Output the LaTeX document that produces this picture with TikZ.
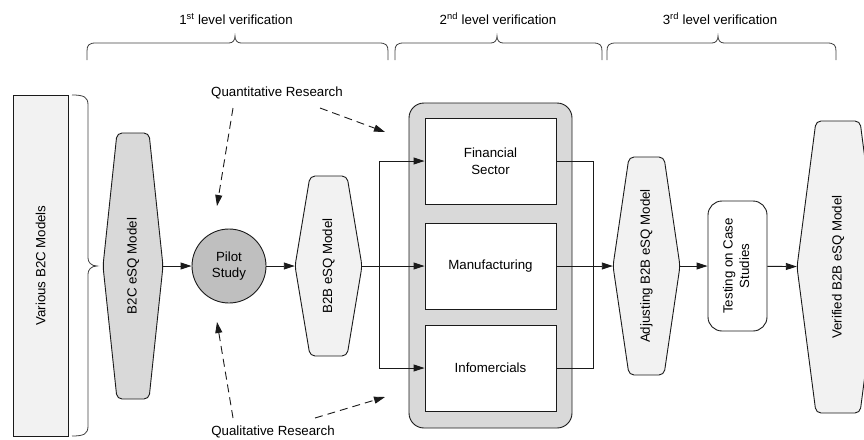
\documentclass[tikz,border=0pt]{standalone}
\usepackage{fontspec}
\setmainfont{Liberation Sans}
\usetikzlibrary{arrows.meta}
\definecolor{lightfill}{HTML}{F2F2F2}
\definecolor{midfill}{HTML}{D9D9D9}
\definecolor{darkfill}{HTML}{BFBFBF}
\definecolor{ink}{HTML}{1A1A1A}
\tikzset{
  line/.style={draw=ink, line width=0.9pt},
  arr/.style={line, -{Triangle[length=11pt,width=7pt]}},
  dasharr/.style={arr, dash pattern=on 8pt off 5pt},
  hexstyle/.style={line, rounded corners=5pt},
  bracestyle/.style={draw=black!75, line width=0.8pt},
  sectorbox/.style={line, fill=white, minimum width=131, minimum height=86, inner sep=0, align=center},
  plain/.style={inner sep=1pt, align=center}
}
\newcommand\hexnode[8]{%
  \draw[hexstyle, fill=#7] ({#2-#4},#3) -- ({#2-#4+#6},{#3-#5}) -- ({#2+#4-#6},{#3-#5}) -- ({#2+#4},#3) -- ({#2+#4-#6},{#3+#5}) -- ({#2-#4+#6},{#3+#5}) -- cycle;
  \node[inner sep=0, minimum width={2*#4}, minimum height={2*#5}] (#1) at (#2,#3) {\rotatebox{90}{#8}};}
\newcommand\topbrace[3]{%
  \draw[bracestyle] (#1,60) -- (#1,51) .. controls (#1,45) and ({#1+2},43) .. ({#1+9},43) -- ({#2-6},43) .. controls ({#2-2},43) and (#2,40) .. (#2,36) .. controls (#2,40) and ({#2+2},43) .. ({#2+6},43) -- ({#3-9},43) .. controls ({#3-2},43) and (#3,45) .. (#3,51) -- (#3,60);}
\begin{document}
\begin{tikzpicture}[x=1pt,y=-1pt,font=\fontsize{13.3}{16.5}\selectfont]
\useasboundingbox (0,0) rectangle (864,439);

% level headings and braces
\node[plain] (lv1) at (236,19) {1\textsuperscript{st} level verification};
\node[plain] (lv2) at (498,19) {2\textsuperscript{nd} level verification};
\node[plain] (lv3) at (720,19) {3\textsuperscript{rd} level verification};
\topbrace{87}{235}{388}
\topbrace{395}{497}{602}
\topbrace{607}{718}{836}

% various B2C models
\node[line, fill=lightfill, minimum width=55, minimum height=341, inner sep=0] (var) at (40.5,265.5) {\rotatebox{90}{Various B2C Models}};
\draw[bracestyle] (72,95) .. controls (84,95) and (88,97) .. (88,105) -- (88,258) .. controls (88,262) and (91,266) .. (97,266) .. controls (91,266) and (88,270) .. (88,274) -- (88,426) .. controls (88,434) and (84,436) .. (72,436);

% hexagons
\hexnode{b2c}{133}{266}{30}{133}{14}{midfill}{B2C eSQ Model}
\hexnode{b2b}{328.5}{266}{33.5}{90}{15}{lightfill}{B2B eSQ Model}
\hexnode{adj}{646.5}{266}{33.5}{109}{16}{lightfill}{Adjusting B2B eSQ Model}
\hexnode{ver}{838}{267}{41}{146}{19}{lightfill}{Verified B2B eSQ Model}

% pilot study
\node[circle, line, fill=darkfill, minimum size=74, inner sep=0, align=center] (pilot) at (229,266) {Pilot\\Study};

% sectors
\node[line, fill=midfill, rounded corners=15pt, minimum width=163, minimum height=325, inner sep=0] (sect) at (490.5,265.5) {};
\node[sectorbox] (fin) at (490.5,161) {Financial\\Sector};
\node[sectorbox] (manu) at (490.5,266) {Manufacturing};
\node[sectorbox] (info) at (490.5,368) {Infomercials};

% testing
\node[line, fill=white, rounded corners=14pt, minimum width=59, minimum height=130, inner sep=0] (test) at (737.5,266) {\rotatebox{90}{\begin{tabular}{@{}c@{}}Testing on Case\\Studies\end{tabular}}};

% research labels
\node[plain] (quant) at (277,93) {Quantitative Research};
\node[plain] (qual) at (273,432) {Qualitative Research};
\coordinate (qa1s) at (233,108);
\coordinate (qa1e) at (217,206);
\coordinate (qa2s) at (320,108);
\coordinate (qa2e) at (385,132);
\coordinate (ql1s) at (233,418);
\coordinate (ql1e) at (217,322);
\coordinate (ql2s) at (315,418);
\coordinate (ql2e) at (385,397);
\draw[dasharr] (qa1s) -- (qa1e);
\draw[dasharr] (qa2s) -- (qa2e);
\draw[dasharr] (ql1s) -- (ql1e);
\draw[dasharr] (ql2s) -- (ql2e);

% connectors
\coordinate (jl) at (379,266);
\coordinate (jr) at (593,266);
\draw[arr] (b2c) -- (pilot);
\draw[arr] (pilot) -- (b2b);
\draw[arr] (b2b) -- (manu);
\draw[line] (jl |- fin) -- (jl |- info);
\draw[arr] (jl |- fin) -- (fin);
\draw[arr] (jl |- info) -- (info);
\draw[line] (fin) -- (jr |- fin) -- (jr |- info) -- (info);
\draw[arr] (manu) -- (adj);
\draw[arr] (adj) -- (test);
\draw[arr] (test) -- (ver);
\end{tikzpicture}
\end{document}
